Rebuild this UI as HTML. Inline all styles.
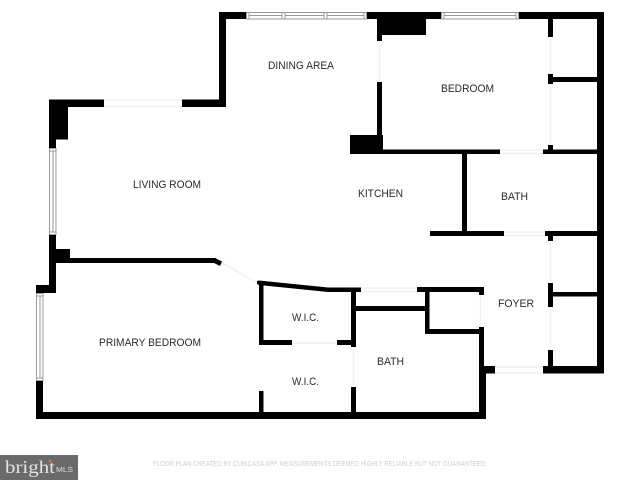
<!DOCTYPE html>
<html><head><meta charset="utf-8"><style>
html,body{margin:0;padding:0;background:#fff;width:640px;height:480px;overflow:hidden}
svg{display:block}
text{font-family:"Liberation Sans",sans-serif;fill:#2a2a2a;font-size:11px}
</style></head><body>
<svg width="640" height="480" viewBox="0 0 640 480" xmlns="http://www.w3.org/2000/svg">
<rect width="640" height="480" fill="#fff"/>
<!-- faint door lines -->
<g stroke="#f1f1f1" stroke-width="1.5" fill="none">
<path d="M104 100H182M104 106.500H182M379.500 41V82M500 150H543M500 153.500H543M550.500 37V74M550.500 84V145M504 232H545M504 235.500H545M550.500 241V283M550.500 307V350M495 367H543M495 373H543M361 288H417M361 291.500H417M292 343H337M353.500 347V387M480.500 295V327M221 262L257 283"/>
</g>
<!-- walls -->
<g fill="#000">
<rect x="219" y="12" width="27" height="7"/>
<rect x="219" y="12" width="7" height="95"/>
<rect x="182" y="99.500" width="44" height="7.500"/>
<rect x="367" y="12" width="74" height="7"/>
<rect x="377" y="12" width="49" height="23"/>
<rect x="377" y="35" width="5" height="6"/>
<rect x="377" y="82" width="5" height="55"/>
<rect x="350" y="135" width="33" height="19"/>
<rect x="350" y="149.500" width="150" height="4.500"/>
<rect x="543" y="149.500" width="54" height="4.500"/>
<rect x="519" y="12" width="85" height="7"/>
<rect x="597" y="12" width="7" height="361.500"/>
<rect x="548" y="19" width="5" height="18"/>
<rect x="548" y="74" width="5" height="10"/>
<rect x="553" y="77" width="44" height="5"/>
<rect x="548" y="145" width="5" height="5"/>
<rect x="462" y="154" width="5" height="79"/>
<rect x="430" y="231" width="74" height="5"/>
<rect x="545" y="231" width="52" height="5"/>
<rect x="548" y="236" width="5" height="5"/>
<rect x="548" y="283" width="5" height="24"/>
<rect x="553" y="292" width="44" height="4.500"/>
<rect x="548" y="350" width="5" height="17"/>
<rect x="543" y="366" width="61" height="7.500"/>
<!-- living room -->
<rect x="49" y="99.500" width="55" height="7.500"/>
<rect x="49" y="99.500" width="19" height="40"/>
<rect x="49" y="99.500" width="7" height="48.500"/>
<rect x="49" y="235" width="7" height="57"/>
<rect x="56" y="249" width="14" height="14"/>
<rect x="56" y="258" width="160" height="5"/>
<polygon points="215,258 222,261.500 220,266 214,263"/>
<rect x="36" y="285" width="20" height="8"/>
<!-- primary -->
<rect x="36" y="381" width="7" height="38"/>
<rect x="36" y="412" width="450" height="7"/>
<!-- WIC -->
<polygon points="257,281 259,280.500 328,287.500 361,287.500 361,292 328,292 259,285 257,284"/>
<rect x="259" y="282" width="4.500" height="63"/>
<rect x="259" y="340" width="33" height="5"/>
<rect x="337" y="340" width="19" height="5"/>
<rect x="351" y="289" width="5" height="58"/>
<rect x="351" y="387" width="5" height="26"/>
<rect x="259" y="391" width="4.500" height="22"/>
<!-- bath core -->
<rect x="417" y="287" width="67" height="5"/>
<rect x="479" y="287" width="5" height="8"/>
<rect x="425" y="290" width="4.500" height="44"/>
<rect x="353" y="306" width="74" height="5"/>
<rect x="425" y="329" width="59" height="5"/>
<rect x="479" y="327" width="5" height="40"/>
<rect x="479" y="366" width="7" height="53"/>
<rect x="484" y="366" width="11" height="7.500"/>
</g>
<!-- windows -->
<g fill="#fff" stroke="#9a9a9a" stroke-width="1">
<rect x="246.500" y="12.500" width="120" height="6.500"/>
<path d="M249 12.500V19M282 12.500V19M285 12.500V19M324 12.500V19M327 12.500V19M364 12.500V19" fill="none"/>
<rect x="441.500" y="12.500" width="77" height="6.500"/>
<path d="M444 12.500V19M516 12.500V19" fill="none"/>
<rect x="49.500" y="148.500" width="6.500" height="86"/>
<path d="M49.500 151H56M49.500 232H56" fill="none"/>
<rect x="36.500" y="293.500" width="6.500" height="87"/>
<path d="M36.500 296H43M36.500 378H43" fill="none"/>
</g>
<g stroke="#9a9a9a" stroke-width="1" fill="none">
<path d="M249 15.500H282M285 15.500H324M327 15.500H364M444 15.500H516M53 151V232M40 296V378"/>
</g>
<!-- labels -->
<text x="268" y="69" textLength="66" lengthAdjust="spacingAndGlyphs">DINING AREA</text>
<text x="441" y="92" textLength="53" lengthAdjust="spacingAndGlyphs">BEDROOM</text>
<text x="133" y="188" textLength="68" lengthAdjust="spacingAndGlyphs">LIVING ROOM</text>
<text x="358" y="197" textLength="45" lengthAdjust="spacingAndGlyphs">KITCHEN</text>
<text x="501" y="200" textLength="27" lengthAdjust="spacingAndGlyphs">BATH</text>
<text x="498" y="307" textLength="36" lengthAdjust="spacingAndGlyphs">FOYER</text>
<text x="292" y="321" textLength="27" lengthAdjust="spacingAndGlyphs">W.I.C.</text>
<text x="292" y="385" textLength="27" lengthAdjust="spacingAndGlyphs">W.I.C.</text>
<text x="377" y="365" textLength="27" lengthAdjust="spacingAndGlyphs">BATH</text>
<text x="99" y="346" textLength="102" lengthAdjust="spacingAndGlyphs">PRIMARY BEDROOM</text>
<text x="153" y="466" textLength="334" lengthAdjust="spacingAndGlyphs" style="font-size:7px;fill:#cfcfcf">FLOOR PLAN CREATED BY CUBICASA APP. MEASUREMENTS DEEMED HIGHLY RELIABLE BUT NOT GUARANTEED.</text>
<!-- logo -->
<rect x="0" y="455" width="78" height="25" fill="#6a6a6a"/>
<text x="5" y="473" textLength="50" lengthAdjust="spacingAndGlyphs" style="font-family:'Liberation Serif',serif;font-size:18px;fill:#e4e4e4">bright</text>
<text x="56" y="472" textLength="17" lengthAdjust="spacingAndGlyphs" style="font-size:7.500px;fill:#dcdcdc">MLS</text>
<circle cx="50" cy="461" r="1.500" fill="#c77a4a"/>
</svg>
</body></html>
